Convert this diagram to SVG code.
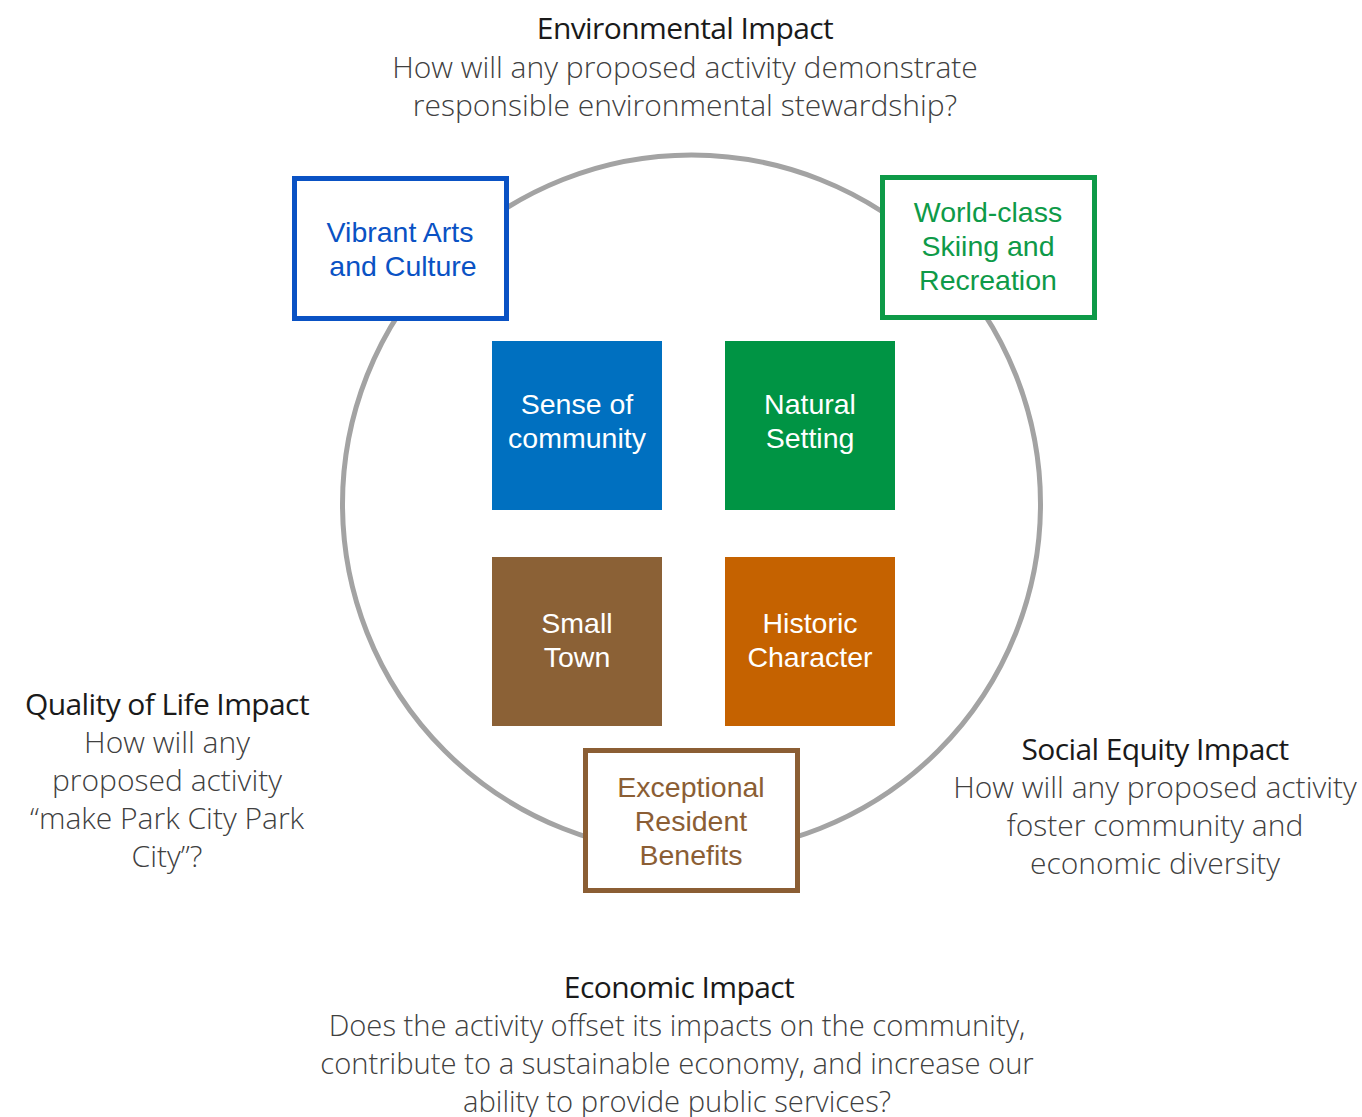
<svg xmlns="http://www.w3.org/2000/svg" width="1362" height="1117" viewBox="0 0 1362 1117">
<style>
.box{font-family:"Liberation Sans",Arial,sans-serif;font-size:28.5px;text-anchor:middle}
.fill{fill:#ffffff}
.head{font-family:"Open Sans",sans-serif;font-size:30px;font-weight:400;fill:#1a1a1a;text-anchor:middle;letter-spacing:-0.6px}
.body{font-family:"Open Sans",sans-serif;font-size:30px;font-weight:300;fill:#404040;text-anchor:middle}
.econ{font-size:29.2px}
</style>
<rect width="1362" height="1117" fill="#ffffff"/>
<g id="connectors">
<circle cx="691.5" cy="504" r="349" fill="none" stroke="#a3a3a3" stroke-width="5"/>
</g>
<g id="vibrant-arts">
<rect x="294.5" y="178.5" width="212" height="140" fill="#ffffff" stroke="#0a52c4" stroke-width="5"/>
<text class="box" fill="#0a52c4"><tspan x="400" y="242">Vibrant Arts</tspan><tspan x="403" y="276">and Culture</tspan></text>
</g>
<g id="world-class">
<rect x="882.5" y="177.5" width="212" height="140" fill="#ffffff" stroke="#0e9a48" stroke-width="5"/>
<text class="box" fill="#0e9a48"><tspan x="988" y="222">World-class</tspan><tspan x="988" y="256">Skiing and</tspan><tspan x="988" y="290">Recreation</tspan></text>
</g>
<g id="sense-of-community">
<rect x="492" y="341" width="170" height="169" fill="#0070c0"/>
<text class="box fill"><tspan x="577" y="414">Sense of</tspan><tspan x="577" y="448">community</tspan></text>
</g>
<g id="natural-setting">
<rect x="725" y="341" width="170" height="169" fill="#009444"/>
<text class="box fill"><tspan x="810" y="414">Natural</tspan><tspan x="810" y="448">Setting</tspan></text>
</g>
<g id="small-town">
<rect x="492" y="557" width="170" height="169" fill="#8b6136"/>
<text class="box fill"><tspan x="577" y="633">Small</tspan><tspan x="577" y="667">Town</tspan></text>
</g>
<g id="historic-character">
<rect x="725" y="557" width="170" height="169" fill="#c56200"/>
<text class="box fill"><tspan x="810" y="633">Historic</tspan><tspan x="810" y="667">Character</tspan></text>
</g>
<g id="exceptional-resident-benefits">
<rect x="585.5" y="750.5" width="212" height="140" fill="#ffffff" stroke="#8b5e34" stroke-width="5"/>
<text class="box" fill="#8b5e34"><tspan x="691" y="797">Exceptional</tspan><tspan x="691" y="831">Resident</tspan><tspan x="691" y="865">Benefits</tspan></text>
</g>
<g id="environmental-impact">
<text class="head" x="685" y="39">Environmental Impact</text>
<text class="body"><tspan x="685" y="78">How will any proposed activity demonstrate</tspan><tspan x="685" y="116">responsible environmental stewardship?</tspan></text>
</g>
<g id="quality-of-life-impact">
<text class="head" x="167" y="715">Quality of Life Impact</text>
<text class="body"><tspan x="167" y="753">How will any</tspan><tspan x="167" y="791">proposed activity</tspan><tspan x="167" y="829">“make Park City Park</tspan><tspan x="167" y="867">City”?</tspan></text>
</g>
<g id="social-equity-impact">
<text class="head" x="1155" y="760">Social Equity Impact</text>
<text class="body"><tspan x="1155" y="798">How will any proposed activity</tspan><tspan x="1155" y="836">foster community and</tspan><tspan x="1155" y="874">economic diversity</tspan></text>
</g>
<g id="economic-impact">
<text class="head" x="679" y="998">Economic Impact</text>
<text class="body econ"><tspan x="677" y="1036">Does the activity offset its impacts on the community,</tspan><tspan x="677" y="1074">contribute to a sustainable economy, and increase our</tspan><tspan x="677" y="1112">ability to provide public services?</tspan></text>
</g>
</svg>
